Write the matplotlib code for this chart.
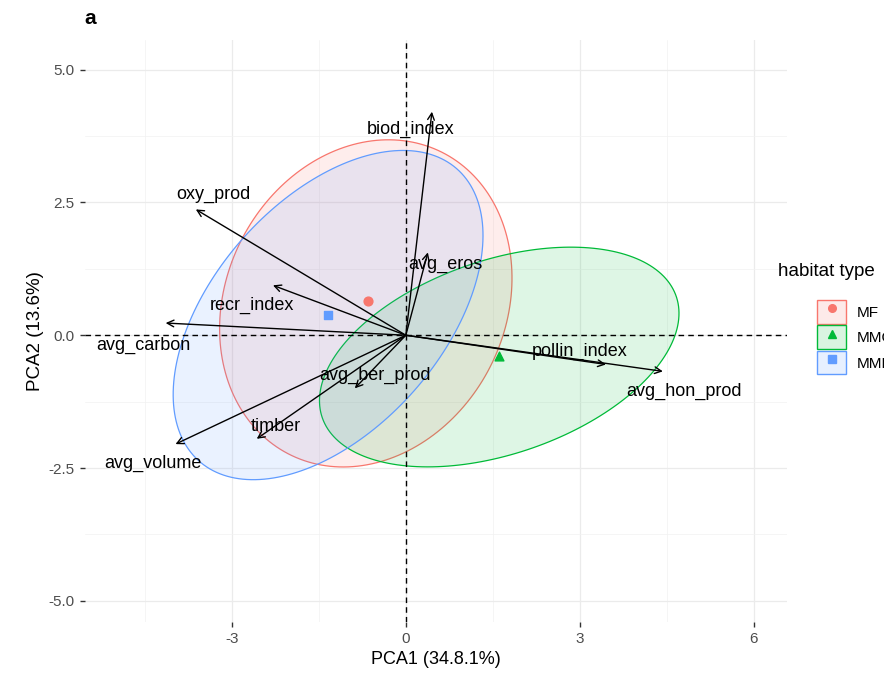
import numpy as np
import matplotlib
matplotlib.use("Agg")
import matplotlib.pyplot as plt
from matplotlib.patches import Polygon, Patch
from matplotlib.lines import Line2D
from matplotlib.legend_handler import HandlerTuple

plt.rcParams['font.family'] = ['Liberation Sans', 'DejaVu Sans']
plt.rcParams['axes.unicode_minus'] = False

# variable loadings (arrow tips) and their label positions
variables = ["biod_index", "oxy_prod", "recr_index", "avg_carbon", "avg_eros",
             "avg_ber_prod", "timber", "avg_volume", "pollin_index", "avg_hon_prod"]
load_x = [0.45, -3.62, -2.29, -4.14, 0.38, -0.88, -2.57, -3.97, 3.45, 4.43]
load_y = [4.21, 2.37, 0.94, 0.23, 1.56, -1.00, -1.95, -2.05, -0.55, -0.68]
lab_x = [0.09, -3.31, -2.66, -4.52, 0.69, -0.53, -2.24, -4.36, 3.00, 4.79]
lab_y = [3.87, 2.65, 0.56, -0.19, 1.33, -0.75, -1.71, -2.42, -0.30, -1.05]

# habitat groups: centroid and ellipse spread (var x, var y, cov)
groups = ["MF", "MMC", "MMF"]
cent_x = [-0.66, 1.60, -1.34]
cent_y = [0.64, -0.39, 0.38]
ell_cx = [-0.69, 1.61, -1.34]
ell_cy = [0.60, -0.41, 0.38]
ell_vx = [6.35, 9.60, 7.13]
ell_vy = [9.49, 4.28, 9.61]
ell_cov = [1.20, 2.55, 4.00]

colors = ["#F8766D", "#00BA38", "#619CFF"]
markers = ["o", "^", "s"]

fig = plt.figure(figsize=(8.84, 6.85), dpi=100)
ax = fig.add_axes([85 / 884, 1 - 622 / 685, (787 - 85) / 884, (622 - 40) / 685])
ax.set_xlim(-5.53, 6.57)
ax.set_ylim(-5.40, 5.56)

ax.set_xticks([-3, 0, 3, 6])
ax.set_yticks([-5, -2.5, 0, 2.5, 5])
ax.set_yticklabels(["-5.0", "-2.5", "0.0", "2.5", "5.0"])
ax.set_xticks([-4.5, -1.5, 1.5, 4.5], minor=True)
ax.set_yticks([-3.75, -1.25, 1.25, 3.75], minor=True)
ax.grid(which="major", color="#EBEBEB", lw=0.9)
ax.grid(which="minor", color="#F2F2F2", lw=0.5)
ax.set_axisbelow(True)
for s in ax.spines.values():
    s.set_visible(False)
ax.tick_params(which="major", length=3.5, width=1, color="#333333",
               labelcolor="#4D4D4D", labelsize=11, pad=4)
ax.tick_params(which="minor", length=0)

t = np.linspace(0, 2 * np.pi, 200)
for i, g in enumerate(groups):
    cov = np.array([[ell_vx[i], ell_cov[i]], [ell_cov[i], ell_vy[i]]])
    vals, vecs = np.linalg.eigh(cov)
    pts = vecs @ np.vstack([np.sqrt(vals[0]) * np.cos(t), np.sqrt(vals[1]) * np.sin(t)])
    xy = np.column_stack([pts[0] + ell_cx[i], pts[1] + ell_cy[i]])
    ax.add_patch(Polygon(xy, closed=True, facecolor=colors[i], alpha=0.13, lw=0))
    ax.add_patch(Polygon(xy, closed=True, facecolor="none", edgecolor=colors[i], lw=0.9))

ax.axhline(0, color="black", ls=(0, (4, 3)), lw=1)
ax.axvline(0, color="black", ls=(0, (4, 3)), lw=1)

for i, g in enumerate(groups):
    ax.scatter(cent_x[i], cent_y[i], marker=markers[i], color=colors[i], s=40, zorder=5)

for i, v in enumerate(variables):
    ax.annotate("", xy=(load_x[i], load_y[i]), xytext=(0, 0),
                arrowprops=dict(arrowstyle="->", color="black", lw=1,
                                shrinkA=0, shrinkB=0, mutation_scale=12))
    ax.text(lab_x[i], lab_y[i], v, ha="center", va="center", fontsize=13, color="black")

ax.set_xlabel("PCA1 (34.8.1%)", fontsize=13, labelpad=3)
ax.set_ylabel("PCA2 (13.6%)", fontsize=13.5, labelpad=3)
fig.text(90 / 884, 1 - 18 / 685, "a", fontsize=15, fontweight="bold", ha="center", va="center")

# legend: title on its own, keys indented as in the original
fig.text(778 / 884, 1 - 271 / 685, "habitat type", fontsize=13.5, ha="left", va="center")
handles = []
for i, g in enumerate(groups):
    box = Patch(facecolor=(*matplotlib.colors.to_rgb(colors[i]), 0.15), edgecolor=colors[i], lw=1)
    mk = Line2D([], [], marker=markers[i], color=colors[i], ls="none", markersize=5.5)
    handles.append((box, mk))
leg = fig.legend(handles, groups, handler_map={tuple: HandlerTuple(ndivide=1, pad=0)},
                 loc="upper left", bbox_to_anchor=(817 / 884, 1 - 300 / 685),
                 frameon=False, fontsize=11,
                 handlelength=1.9, handleheight=2.0, labelspacing=0.12, handletextpad=0.7,
                 borderaxespad=0, borderpad=0)

fig.savefig("out.png", dpi=100)
